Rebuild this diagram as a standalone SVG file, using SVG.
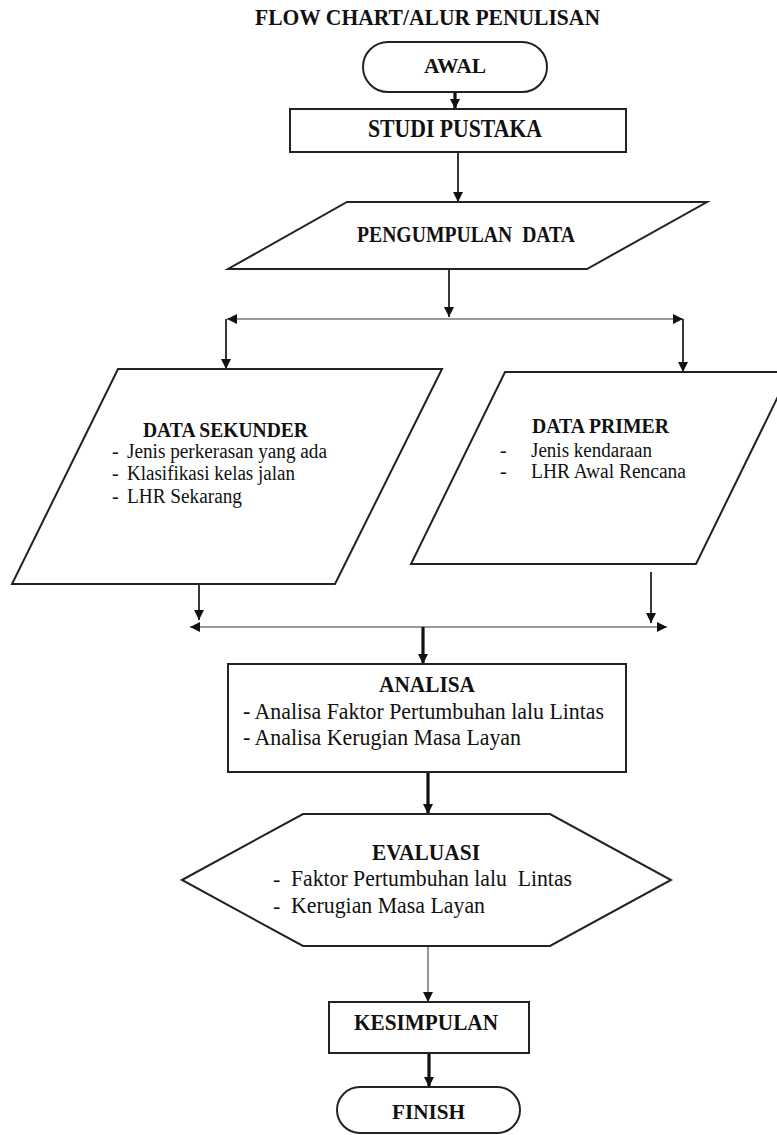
<svg xmlns="http://www.w3.org/2000/svg" width="777" height="1135" viewBox="0 0 777 1135">
<style>
.shape{fill:#fff;stroke:#222;stroke-width:2}
.conn{stroke:#222;stroke-width:1.8;fill:none}
.thick{stroke:#111;stroke-width:3.2;fill:none}
.gray{stroke:#999;stroke-width:2.2;fill:none}
.b{font-family:"Liberation Serif",serif;font-weight:bold;fill:#111}
.r{font-family:"Liberation Serif",serif;fill:#111}
</style>
<defs>
<marker id="ah" markerUnits="userSpaceOnUse" markerWidth="10" markerHeight="10" refX="10" refY="5" orient="auto"><path d="M0,0 L10,5 L0,10 z" fill="#111"/></marker>
</defs>
<rect width="777" height="1135" fill="#fff"/>
<text class="b" x="255" y="25" font-size="23" textLength="345" lengthAdjust="spacingAndGlyphs">FLOW CHART/ALUR PENULISAN</text>

<g id="connectors">
<line class="thick" x1="455" y1="92" x2="455" y2="109" marker-end="url(#ah)"/>
<line class="conn" x1="458" y1="152" x2="458" y2="202" marker-end="url(#ah)"/>
<line class="conn" x1="449" y1="269" x2="449" y2="317" marker-end="url(#ah)"/>
<line class="gray" x1="455" y1="319" x2="227" y2="319" marker-end="url(#ah)"/>
<line class="gray" x1="455" y1="319" x2="683" y2="319" marker-end="url(#ah)"/>
<line class="conn" x1="226" y1="319" x2="226" y2="369" marker-end="url(#ah)"/>
<line class="conn" x1="683" y1="319" x2="683" y2="372" marker-end="url(#ah)"/>
<line class="conn" x1="199" y1="584" x2="199" y2="620" marker-end="url(#ah)"/>
<line class="conn" x1="651" y1="572" x2="651" y2="623" marker-end="url(#ah)"/>
<line class="gray" x1="425" y1="627" x2="190" y2="627" marker-end="url(#ah)"/>
<line class="gray" x1="425" y1="627" x2="667" y2="627" marker-end="url(#ah)"/>
<line class="thick" x1="423" y1="627" x2="423" y2="664" marker-end="url(#ah)"/>
<line class="thick" x1="428" y1="772" x2="428" y2="814" marker-end="url(#ah)"/>
<line class="gray" x1="428" y1="946" x2="428" y2="1002" marker-end="url(#ah)"/>
<line class="thick" x1="429" y1="1047" x2="429" y2="1087" marker-end="url(#ah)"/>
</g>

<g id="awal">
<rect class="shape" x="363" y="42" width="184" height="50" rx="25"/>
<text class="b" x="424" y="73" font-size="21" textLength="62" lengthAdjust="spacingAndGlyphs">AWAL</text>
</g>

<g id="studi">
<rect class="shape" x="290" y="109" width="336" height="43"/>
<text class="b" x="368" y="137" font-size="25" textLength="174" lengthAdjust="spacingAndGlyphs">STUDI PUSTAKA</text>
</g>

<g id="pengumpulan">
<polygon class="shape" points="347,202 707,202 587,269 228,269"/>
<text class="b" x="357" y="242" font-size="23" textLength="218" lengthAdjust="spacingAndGlyphs" xml:space="preserve">PENGUMPULAN  DATA</text>
</g>

<g id="sekunder">
<polygon class="shape" points="118,369 442,369 335,584 12,584"/>
<text class="b" x="143" y="437" font-size="21" textLength="165" lengthAdjust="spacingAndGlyphs">DATA SEKUNDER</text>
<text class="r" x="112" y="458" font-size="20">-</text>
<text class="r" x="127" y="458" font-size="20" textLength="200" lengthAdjust="spacingAndGlyphs">Jenis perkerasan yang ada</text>
<text class="r" x="112" y="480" font-size="20">-</text>
<text class="r" x="127" y="480" font-size="20" textLength="168" lengthAdjust="spacingAndGlyphs">Klasifikasi kelas jalan</text>
<text class="r" x="112" y="503" font-size="20">-</text>
<text class="r" x="127" y="503" font-size="20" textLength="115" lengthAdjust="spacingAndGlyphs">LHR Sekarang</text>
</g>

<g id="primer">
<polygon class="shape" points="505,372 790,372 696,564 411,564"/>
<text class="b" x="532" y="433" font-size="21" textLength="137" lengthAdjust="spacingAndGlyphs">DATA PRIMER</text>
<text class="r" x="500" y="457" font-size="20">-</text>
<text class="r" x="531" y="457" font-size="20" textLength="121" lengthAdjust="spacingAndGlyphs">Jenis kendaraan</text>
<text class="r" x="500" y="478" font-size="20">-</text>
<text class="r" x="531" y="478" font-size="20" textLength="155" lengthAdjust="spacingAndGlyphs">LHR Awal Rencana</text>
</g>

<g id="analisa">
<rect class="shape" x="228" y="664" width="398" height="108" stroke-width="2.5"/>
<text class="b" x="379" y="692" font-size="24" textLength="96" lengthAdjust="spacingAndGlyphs">ANALISA</text>
<text class="r" x="243" y="719" font-size="23" textLength="361" lengthAdjust="spacingAndGlyphs">- Analisa Faktor Pertumbuhan lalu Lintas</text>
<text class="r" x="243" y="745" font-size="23" textLength="278" lengthAdjust="spacingAndGlyphs">- Analisa Kerugian Masa Layan</text>
</g>

<g id="evaluasi">
<polygon class="shape" points="182,880 303,814 550,814 671,880 550,946 303,946"/>
<text class="b" x="372" y="860" font-size="24" textLength="108" lengthAdjust="spacingAndGlyphs">EVALUASI</text>
<text class="r" x="273" y="886" font-size="22">-</text>
<text class="r" x="291" y="886" font-size="23" textLength="281" lengthAdjust="spacingAndGlyphs" xml:space="preserve">Faktor Pertumbuhan lalu  Lintas</text>
<text class="r" x="273" y="913" font-size="22">-</text>
<text class="r" x="291" y="913" font-size="23" textLength="194" lengthAdjust="spacingAndGlyphs">Kerugian Masa Layan</text>
</g>

<g id="kesimpulan">
<rect class="shape" x="329" y="1002" width="200" height="51"/>
<text class="b" x="354" y="1030" font-size="23" textLength="144" lengthAdjust="spacingAndGlyphs">KESIMPULAN</text>
</g>

<g id="finish">
<rect class="shape" x="337" y="1087" width="183" height="46" rx="23"/>
<text class="b" x="392" y="1119" font-size="22" textLength="73" lengthAdjust="spacingAndGlyphs">FINISH</text>
</g>
</svg>
